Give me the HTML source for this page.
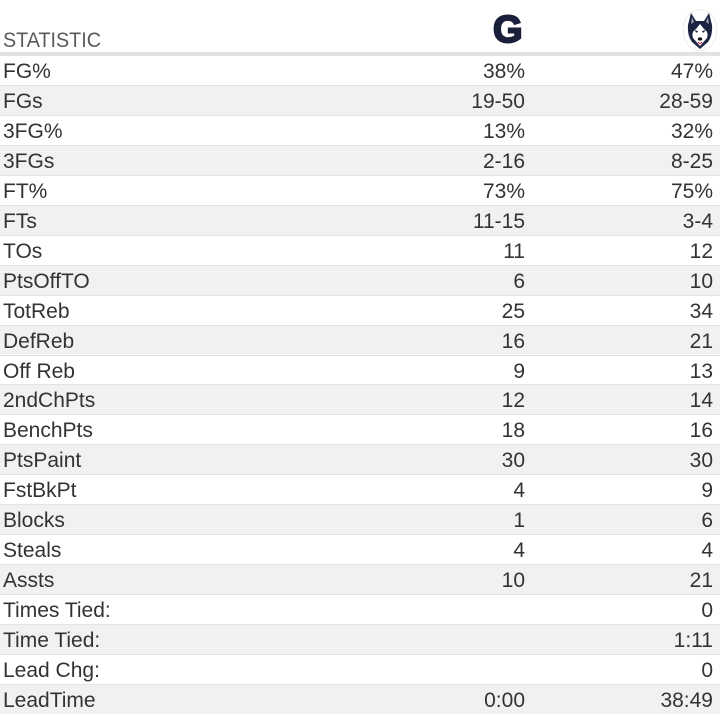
<!DOCTYPE html>
<html>
<head>
<meta charset="utf-8">
<style>
  html,body{margin:0;padding:0;background:#fff;}
  body{width:720px;height:720px;position:relative;overflow:hidden;font-family:"Liberation Sans",Arial,sans-serif;color:#333;}
  .hdr{position:absolute;left:3px;top:26px;font-size:21px;color:#5a5a5a;line-height:30px;transform:scaleX(0.94);transform-origin:left center;}
  .hline{position:absolute;left:0;top:52px;width:720px;height:3px;background:#e2e2e2;}
  .row{position:absolute;left:0;width:720px;height:29.95px;box-sizing:border-box;border-top:1px solid #e4e4e4;font-size:21px;line-height:29px;}
  .row.g{background:#f1f1f1;}
  .row .l{position:absolute;left:3px;top:1px;}
  .row .a{position:absolute;right:195px;top:1px;text-align:right;}
  .row .b{position:absolute;right:7px;top:1px;text-align:right;}
  .glogo{position:absolute;left:493px;top:8px;font-size:38px;font-weight:bold;color:#1a1f3a;line-height:44px;-webkit-text-stroke:2px #1a1f3a;}
</style>
</head>
<body>
<div class="hdr">STATISTIC</div>
<div class="glogo">G</div>
<svg style="position:absolute;left:682px;top:9px" width="36" height="42" viewBox="0 0 36 42">
  <ellipse cx="18" cy="21" rx="17" ry="20.5" fill="#fff" stroke="#eeeeee" stroke-width="1"/>
  <path d="M9,4 L14,12 L22,12 L27,4 L30,16 Q31,26 26,33 L18,40 L10,33 Q5,26 6,16 Z" fill="#1c2340"/>
  <path d="M10,8 L12,13 L9,15 Z M26,8 L24,13 L27,15 Z" fill="#9aa0b0"/>
  <path d="M18,15 L14,20 Q9,23 11,29 L18,37 L25,29 Q27,23 22,20 Z" fill="#fff"/>
  <path d="M12,21 L16,22 L15,24 Z M24,21 L20,22 L21,24 Z" fill="#1c2340"/>
  <ellipse cx="18" cy="30" rx="2.2" ry="1.6" fill="#111"/>
  <path d="M16,33 Q18,36 20,33" stroke="#c03" stroke-width="1" fill="none"/>
</svg>
<div class="hline"></div>

<div class="row" style="top:55px"><span class="l">FG%</span><span class="a">38%</span><span class="b">47%</span></div>
<div class="row g" style="top:84.95px"><span class="l">FGs</span><span class="a">19-50</span><span class="b">28-59</span></div>
<div class="row" style="top:114.9px"><span class="l">3FG%</span><span class="a">13%</span><span class="b">32%</span></div>
<div class="row g" style="top:144.85px"><span class="l">3FGs</span><span class="a">2-16</span><span class="b">8-25</span></div>
<div class="row" style="top:174.8px"><span class="l">FT%</span><span class="a">73%</span><span class="b">75%</span></div>
<div class="row g" style="top:204.75px"><span class="l">FTs</span><span class="a">11-15</span><span class="b">3-4</span></div>
<div class="row" style="top:234.7px"><span class="l">TOs</span><span class="a">11</span><span class="b">12</span></div>
<div class="row g" style="top:264.65px"><span class="l">PtsOffTO</span><span class="a">6</span><span class="b">10</span></div>
<div class="row" style="top:294.6px"><span class="l">TotReb</span><span class="a">25</span><span class="b">34</span></div>
<div class="row g" style="top:324.55px"><span class="l">DefReb</span><span class="a">16</span><span class="b">21</span></div>
<div class="row" style="top:354.5px"><span class="l">Off Reb</span><span class="a">9</span><span class="b">13</span></div>
<div class="row g" style="top:384.45px"><span class="l">2ndChPts</span><span class="a">12</span><span class="b">14</span></div>
<div class="row" style="top:414.4px"><span class="l">BenchPts</span><span class="a">18</span><span class="b">16</span></div>
<div class="row g" style="top:444.35px"><span class="l">PtsPaint</span><span class="a">30</span><span class="b">30</span></div>
<div class="row" style="top:474.3px"><span class="l">FstBkPt</span><span class="a">4</span><span class="b">9</span></div>
<div class="row g" style="top:504.25px"><span class="l">Blocks</span><span class="a">1</span><span class="b">6</span></div>
<div class="row" style="top:534.2px"><span class="l">Steals</span><span class="a">4</span><span class="b">4</span></div>
<div class="row g" style="top:564.15px"><span class="l">Assts</span><span class="a">10</span><span class="b">21</span></div>
<div class="row" style="top:594.1px"><span class="l">Times Tied:</span><span class="b">0</span></div>
<div class="row g" style="top:624.05px"><span class="l">Time Tied:</span><span class="b">1:11</span></div>
<div class="row" style="top:654px"><span class="l">Lead Chg:</span><span class="b">0</span></div>
<div class="row g" style="top:683.95px"><span class="l">LeadTime</span><span class="a">0:00</span><span class="b">38:49</span></div>
</body>
</html>
